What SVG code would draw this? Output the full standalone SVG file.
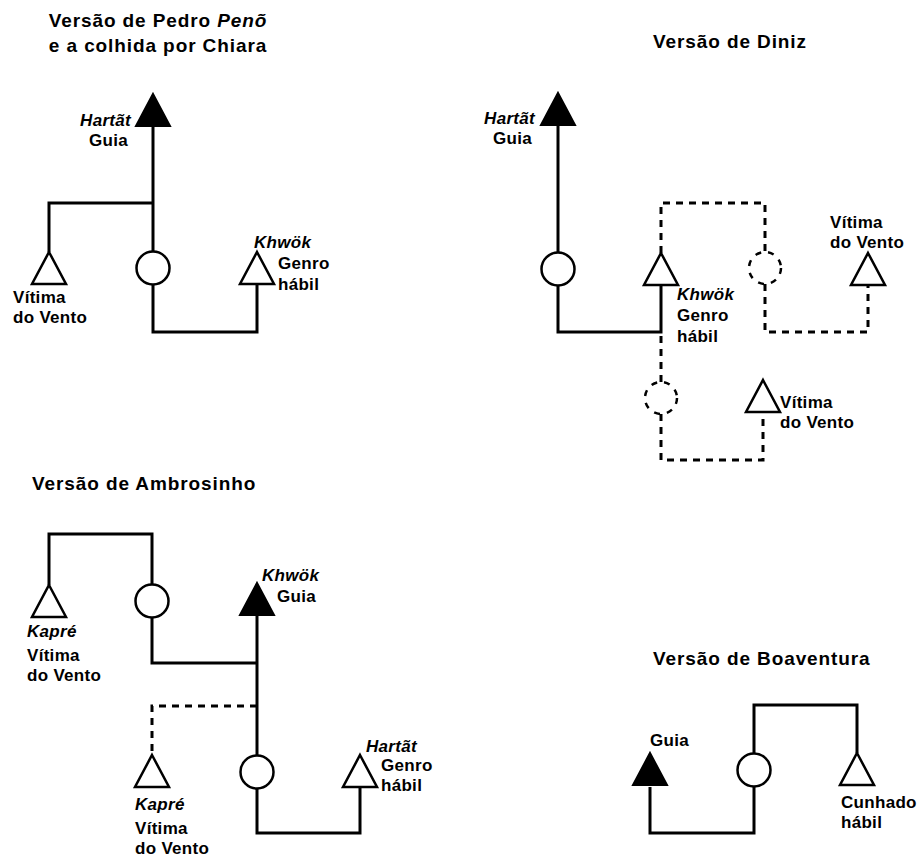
<svg xmlns="http://www.w3.org/2000/svg" width="921" height="859" viewBox="0 0 921 859">
<style>
text{font-family:"Liberation Sans",Arial,sans-serif;font-weight:bold;fill:#000}
.t{font-size:19px;letter-spacing:0.9px}
.l{font-size:17px;letter-spacing:0.3px}
.i{font-style:italic}
.e{text-anchor:end}
.ln{fill:none;stroke:#000;stroke-width:3}
.ds{fill:none;stroke:#000;stroke-width:3;stroke-dasharray:7 6}
.tri{fill:#fff;stroke:#000;stroke-width:2.5;stroke-linejoin:miter}
.trf{fill:#000;stroke:#000;stroke-width:2}
.cir{fill:#fff;stroke:#000;stroke-width:2.5}
.cid{fill:none;stroke:#000;stroke-width:2.5;stroke-dasharray:6 7}
</style>
<defs>
<path id="tri" d="M0 0 L17 32 L-17 32 Z"/>
</defs>
<g id="titles">
<text class="t" x="158" y="27" text-anchor="middle">Versão de Pedro <tspan class="i">Penõ</tspan></text>
<text class="t" x="158" y="52" text-anchor="middle">e a colhida por Chiara</text>
<text class="t" x="653" y="48">Versão de Diniz</text>
<text class="t" x="32" y="490">Versão de Ambrosinho</text>
<text class="t" x="653" y="665">Versão de Boaventura</text>
</g>
<g id="connectors">
<path class="ln" d="M153 126 V252"/>
<path class="ln" d="M153 203 H49 V252"/>
<path class="ln" d="M153 284 V332 H257 V284"/>
<path class="ln" d="M558 126 V252.5"/>
<path class="ln" d="M558 285.5 V332 H661 V285"/>
<path class="ds" d="M661 336 V382"/>
<path class="ds" d="M661 414 V460 H763 V412"/>
<path class="ds" d="M661 253 V203 H765 V252"/>
<path class="ds" d="M765 284 V332 H868 V285"/>
<path class="ln" d="M49 585 V534 H152 V584.5"/>
<path class="ln" d="M152 617.5 V663 H257"/>
<path class="ln" d="M257 616 V755.5"/>
<path class="ds" d="M257 706 H152 V755"/>
<path class="ln" d="M257 788.5 V833 H360 V787"/>
<path class="ln" d="M754 753.5 V705 H857 V753"/>
<path class="ln" d="M754 786.5 V833 H650 V787"/>
</g>
<g id="p1-hartat"><use href="#tri" class="trf" x="153" y="94"/>
<text class="l i e" x="131" y="126">Hartãt</text><text class="l e" x="128" y="146">Guia</text></g>
<g id="p1-vitima"><use href="#tri" class="tri" x="49" y="252"/>
<text class="l" x="13" y="303">Vítima</text><text class="l" x="13" y="323">do Vento</text></g>
<g id="p1-mulher"><circle class="cir" cx="153" cy="268" r="16.5"/></g>
<g id="p1-khwok"><use href="#tri" class="tri" x="257" y="252"/>
<text class="l i" x="254" y="248">Khwök</text><text class="l" x="278" y="269">Genro</text><text class="l" x="278" y="290">hábil</text></g>

<g id="p2-hartat"><use href="#tri" class="trf" x="558" y="93"/>
<text class="l i e" x="535" y="124">Hartãt</text><text class="l e" x="532" y="144">Guia</text></g>
<g id="p2-mulher"><circle class="cir" cx="558" cy="269" r="16.5"/></g>
<g id="p2-khwok"><use href="#tri" class="tri" x="661" y="253"/>
<text class="l i" x="677" y="300">Khwök</text><text class="l" x="677" y="321">Genro</text><text class="l" x="677" y="342">hábil</text></g>
<g id="p2-mulher2"><circle class="cid" cx="661" cy="398" r="16"/></g>
<g id="p2-vitima2"><use href="#tri" class="tri" x="763" y="380"/>
<text class="l" x="780" y="408">Vítima</text><text class="l" x="780" y="428">do Vento</text></g>
<g id="p2-mulher3"><circle class="cid" cx="765" cy="268" r="16"/></g>
<g id="p2-vitima1"><use href="#tri" class="tri" x="868" y="253"/>
<text class="l" x="830" y="228">Vítima</text><text class="l" x="830" y="248">do Vento</text></g>

<g id="p3-kapre1"><use href="#tri" class="tri" x="49" y="585"/>
<text class="l i" x="27" y="637">Kapré</text><text class="l" x="27" y="661">Vítima</text><text class="l" x="27" y="681">do Vento</text></g>
<g id="p3-mulher1"><circle class="cir" cx="152" cy="601" r="16.5"/></g>
<g id="p3-khwok"><use href="#tri" class="trf" x="257" y="583"/>
<text class="l i" x="262" y="581">Khwök</text><text class="l" x="277" y="602">Guia</text></g>
<g id="p3-kapre2"><use href="#tri" class="tri" x="152" y="755"/>
<text class="l i" x="135" y="810">Kapré</text><text class="l" x="135" y="834">Vítima</text><text class="l" x="135" y="854">do Vento</text></g>
<g id="p3-mulher2"><circle class="cir" cx="257" cy="772" r="16.5"/></g>
<g id="p3-hartat"><use href="#tri" class="tri" x="360" y="755"/>
<text class="l i" x="366" y="752">Hartãt</text><text class="l" x="381" y="771">Genro</text><text class="l" x="381" y="791">hábil</text></g>

<g id="p4-guia"><use href="#tri" class="trf" x="650" y="753"/>
<text class="l" x="650" y="746">Guia</text></g>
<g id="p4-mulher"><circle class="cir" cx="754" cy="770" r="16.5"/></g>
<g id="p4-cunhado"><use href="#tri" class="tri" x="857" y="753"/>
<text class="l" x="841" y="808">Cunhado</text><text class="l" x="841" y="828">hábil</text></g>
</svg>
